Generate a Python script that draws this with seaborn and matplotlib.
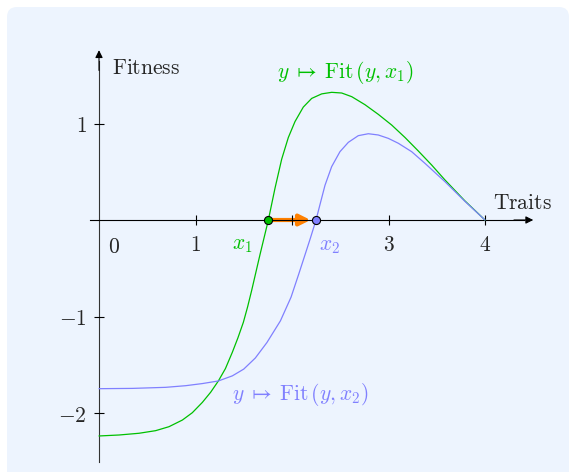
import numpy as np
import pandas as pd
import matplotlib
matplotlib.use("Agg")
import matplotlib.pyplot as plt
import seaborn as sns
from matplotlib.patches import FancyBboxPatch

# -------------------------------
# data
# -------------------------------
green_x = [0.0, 0.207, 0.415, 0.587, 0.725, 0.864, 0.967, 1.071, 1.157, 1.237, 1.31,
           1.382, 1.44, 1.496, 1.54, 1.582, 1.668, 1.755, 1.824, 1.893, 1.962, 2.031,
           2.117, 2.204, 2.308, 2.411, 2.515, 2.619, 2.756, 2.894, 3.033, 3.171,
           3.309, 3.447, 3.585, 3.79, 4.0]
green_y = [-2.238, -2.228, -2.21, -2.183, -2.142, -2.073, -1.997, -1.89, -1.785, -1.668,
           -1.54, -1.37, -1.22, -1.06, -0.90, -0.73, -0.36, 0.0, 0.33, 0.63, 0.855,
           1.02, 1.17, 1.26, 1.307, 1.323, 1.316, 1.278, 1.195, 1.095, 0.984, 0.855,
           0.715, 0.57, 0.415, 0.20, 0.0]

blue_x = [0.0, 0.345, 0.691, 0.898, 1.071, 1.237, 1.382, 1.50, 1.62, 1.74, 1.88, 1.99,
          2.07, 2.135, 2.19, 2.249, 2.29, 2.342, 2.411, 2.497, 2.584, 2.687, 2.791,
          2.894, 2.998, 3.102, 3.24, 3.378, 3.585, 3.79, 4.0]
blue_y = [-1.748, -1.745, -1.734, -1.717, -1.695, -1.668, -1.615, -1.545, -1.43, -1.27,
          -1.045, -0.80, -0.56, -0.36, -0.19, 0.0, 0.16, 0.36, 0.553, 0.708, 0.805,
          0.874, 0.894, 0.881, 0.846, 0.795, 0.708, 0.587, 0.397, 0.195, 0.0]

x1, x2 = 1.75, 2.25

x_ticks = [1, 2, 3, 4]
x_tick_labels = ["$1$", "", "$3$", "$4$"]
y_ticks = [-2, -1, 1]
y_tick_labels = ["$-2$", "$-1$", "$1$"]

green = "#00c000"
blue = "#8080ff"
orange = "#ff8000"

df = pd.concat([
    pd.DataFrame({"x": green_x, "y": green_y, "curve": "x1"}),
    pd.DataFrame({"x": blue_x, "y": blue_y, "curve": "x2"}),
])

# -------------------------------
# figure
# -------------------------------
sns.set_style("white")
plt.rcParams["mathtext.fontset"] = "cm"
plt.rcParams["font.family"] = ["DejaVu Serif"]

W, H = 570, 472
fig = plt.figure(figsize=(W / 100, H / 100), dpi=100)
fig.patch.set_facecolor("white")
fig.patches.append(FancyBboxPatch((7, -30), 562, 472 - 7 + 30,
                                  boxstyle="round,pad=0,rounding_size=10",
                                  transform=None, facecolor="#edf4fe",
                                  edgecolor="none", zorder=-5))

ax = fig.add_axes([0, 0, 1, 1])
ax.set_facecolor("none")
ux = 96.5
ax.set_xlim(-99 / ux, (W - 99) / ux)
ax.set_ylim((220 - H) / ux, 220 / ux)

sns.lineplot(data=df, x="x", y="y", hue="curve", palette=[green, blue],
             sort=False, estimator=None, lw=0.9, legend=False, ax=ax, zorder=3)

# axes through the origin
for s in ["top", "right"]:
    ax.spines[s].set_visible(False)
ax.spines["bottom"].set_position(("data", 0))
ax.spines["left"].set_position(("data", 0))
ax.spines["bottom"].set_bounds(-0.09, 4.4)
ax.spines["left"].set_bounds(-2.51, 1.65)
ax.spines["bottom"].set_linewidth(0.8)
ax.spines["left"].set_linewidth(0.8)
ax.spines["bottom"].set_color("black")
ax.spines["left"].set_color("#333333")
ax.set_axisbelow(False)

fs = 15.5
ax.set_xticks(x_ticks)
ax.set_xticklabels(x_tick_labels)
ax.set_yticks(y_ticks)
ax.set_yticklabels(y_tick_labels)
ax.tick_params(bottom=True, left=True, direction="inout", length=7.5, width=0.8,
               color="black", labelsize=fs, pad=6)
ax.tick_params(axis="y", pad=5)
ax.xaxis.get_major_ticks()[1].tick1line.set_color("#888888")
ax.set_xlabel("")
ax.set_ylabel("")

# arrow heads on the axes
ax.annotate("", xy=(4.5, 0), xytext=(4.3, 0),
            arrowprops=dict(arrowstyle="-|>", color="black", lw=0.8,
                            mutation_scale=11, shrinkA=0, shrinkB=0))
ax.annotate("", xy=(0, 1.76), xytext=(0, 1.55),
            arrowprops=dict(arrowstyle="-|>", color="black", lw=0.8,
                            mutation_scale=11, shrinkA=0, shrinkB=0))

# step from x1 to x2
ax.annotate("", xy=(x2, 0), xytext=(x1, 0),
            arrowprops=dict(arrowstyle="-|>", color=orange, lw=3,
                            mutation_scale=16, shrinkA=3, shrinkB=4),
            zorder=2)
ax.scatter([x1], [0], s=34, color=green, edgecolor="black", linewidth=0.8, zorder=6)
ax.scatter([x2], [0], s=34, color=blue, edgecolor="black", linewidth=0.8, zorder=6)

# labels
ax.text(0.135, 1.575, r"$\mathrm{Fitness}$", fontsize=fs, ha="left", va="center")
ax.text(4.08, 0.176, r"$\mathrm{Traits}$", fontsize=fs, ha="left", va="center")
ax.text(0.09, -0.28, "$0$", fontsize=fs, ha="left", va="center")
ax.text(1.48, -0.25, "$x_1$", fontsize=fs, color=green, ha="center", va="center")
ax.text(2.39, -0.26, "$x_2$", fontsize=fs, color=blue, ha="center", va="center")
ax.text(2.55, 1.53, r"$y\;\mapsto\:\mathrm{Fit}\,(y, x_1)$", fontsize=fs,
        color=green, ha="center", va="center")
ax.text(2.09, -1.81, r"$y\;\mapsto\:\mathrm{Fit}\,(y, x_2)$", fontsize=fs,
        color=blue, ha="center", va="center")

fig.savefig("out.png", dpi=100)
